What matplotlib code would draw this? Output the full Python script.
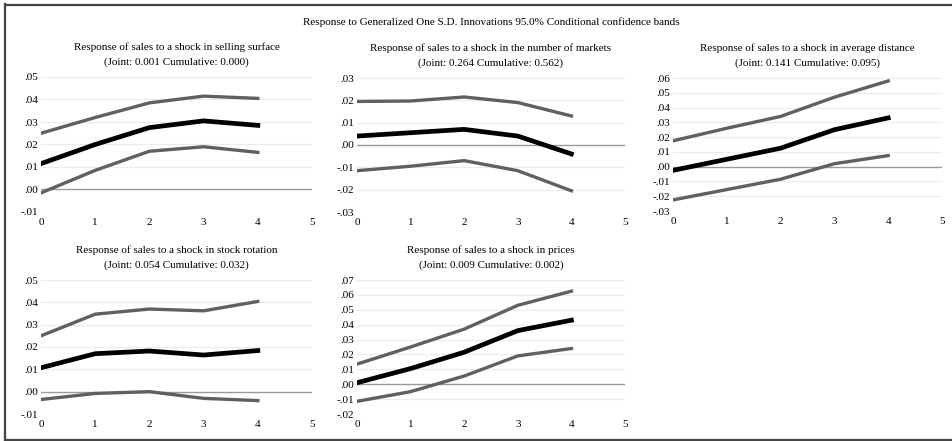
import matplotlib
matplotlib.use('Agg')

import matplotlib.pyplot as plt
from matplotlib.lines import Line2D

plt.rcParams['font.family'] = ['Liberation Serif', 'DejaVu Serif']

steps = [0, 1, 2, 3, 4]

titles = [
    'Response of sales to a shock in selling surface\n(Joint: 0.001 Cumulative: 0.000)',
    'Response of sales to a shock in the number of markets\n(Joint: 0.264 Cumulative: 0.562)',
    'Response of sales to a shock in average distance\n(Joint: 0.141 Cumulative: 0.095)',
    'Response of sales to a shock in stock rotation\n(Joint: 0.054 Cumulative: 0.032)',
    'Response of sales to a shock in prices\n(Joint: 0.009 Cumulative: 0.002)',
]

# impulse response (black) and 95% bands (grey)
surface_mid = [0.0115, 0.020, 0.0275, 0.0305, 0.0285]
surface_up = [0.025, 0.032, 0.0385, 0.0415, 0.0405]
surface_lo = [-0.0015, 0.0085, 0.017, 0.019, 0.0165]

markets_mid = [0.004, 0.0055, 0.007, 0.004, -0.004]
markets_up = [0.0195, 0.0197, 0.0215, 0.019, 0.013]
markets_lo = [-0.0115, -0.0095, -0.007, -0.0115, -0.0205]

distance_mid = [-0.0025, 0.005, 0.0125, 0.025, 0.033]
distance_up = [0.0175, 0.026, 0.034, 0.047, 0.058]
distance_lo = [-0.0225, -0.0155, -0.0085, 0.002, 0.0075]

rotation_mid = [0.0107, 0.017, 0.0182, 0.0164, 0.0184]
rotation_up = [0.025, 0.0347, 0.037, 0.0362, 0.0404]
rotation_lo = [-0.0035, -0.0008, 0.0, -0.003, -0.004]

prices_mid = [0.001, 0.0105, 0.0215, 0.036, 0.043]
prices_up = [0.0135, 0.025, 0.037, 0.053, 0.0625]
prices_lo = [-0.0115, -0.005, 0.0055, 0.019, 0.024]

series = [
    (surface_mid, surface_up, surface_lo),
    (markets_mid, markets_up, markets_lo),
    (distance_mid, distance_up, distance_lo),
    (rotation_mid, rotation_up, rotation_lo),
    (prices_mid, prices_up, prices_lo),
]

y_ranges = [(-0.01, 0.05), (-0.03, 0.03), (-0.03, 0.06), (-0.01, 0.05), (-0.02, 0.07)]

W, H = 953, 441
# pixel boxes: left, right, top, bottom
boxes = [
    (41, 312, 77, 212),
    (357, 625, 78, 212),
    (673, 942, 78, 211),
    (41, 312, 280, 414),
    (357, 625, 280, 414),
]

fig = plt.figure(figsize=(W / 100, H / 100), dpi=100)

# outer frame
fig.add_artist(Line2D([5 / W, 1.01], [1 - 4.5 / H, 1 - 4.5 / H], color='#444444', lw=1.6,
                      transform=fig.transFigure))
fig.add_artist(Line2D([5.5 / W, 5.5 / W], [1 - 4 / H, 1 - 439.5 / H], color='#444444', lw=1.6,
                      transform=fig.transFigure))
fig.add_artist(Line2D([5 / W, 1.01], [1 - 439.5 / H, 1 - 439.5 / H], color='#444444', lw=1.6,
                      transform=fig.transFigure))

fig.text(491 / W, 1 - 22 / H, 'Response to Generalized One S.D. Innovations 95.0% Conditional confidence bands',
         ha='center', va='center', fontsize=8)


def fmt(v):
    s = f'{v:.2f}'
    return s.replace('0.', '.')


for (l, r, t, b), title, (mid, up, lo), (y0, y1) in zip(boxes, titles, series, y_ranges):
    ax = fig.add_axes([l / W, 1 - b / H, (r - l) / W, (b - t) / H])
    ticks = [round(y0 + 0.01 * i, 2) for i in range(int(round((y1 - y0) / 0.01)) + 1)]
    for v in ticks:
        if abs(v) < 1e-9:
            ax.axhline(0, color='#9a9a9a', lw=1.0, zorder=1)
        elif v != ticks[0]:
            ax.axhline(v, color='#ececec', lw=0.8, zorder=0)
    ax.plot(steps, up, color='#606060', lw=2.4, zorder=2)
    ax.plot(steps, lo, color='#606060', lw=2.4, zorder=2)
    ax.plot(steps, mid, color='black', lw=3.4, zorder=3)
    ax.set_xlim(0, 5)
    ax.set_ylim(y0, y1)
    ax.set_yticks(ticks)
    ax.set_yticklabels([fmt(v) for v in ticks])
    ax.set_xticks(range(6))
    for s in ax.spines.values():
        s.set_visible(False)
    ax.tick_params(length=0, labelsize=8, pad=2)
    ax.tick_params(axis='x', pad=4.5)
    ax.set_title(title, fontsize=8, pad=9, linespacing=1.7)

fig.savefig('out.png', dpi=100)
